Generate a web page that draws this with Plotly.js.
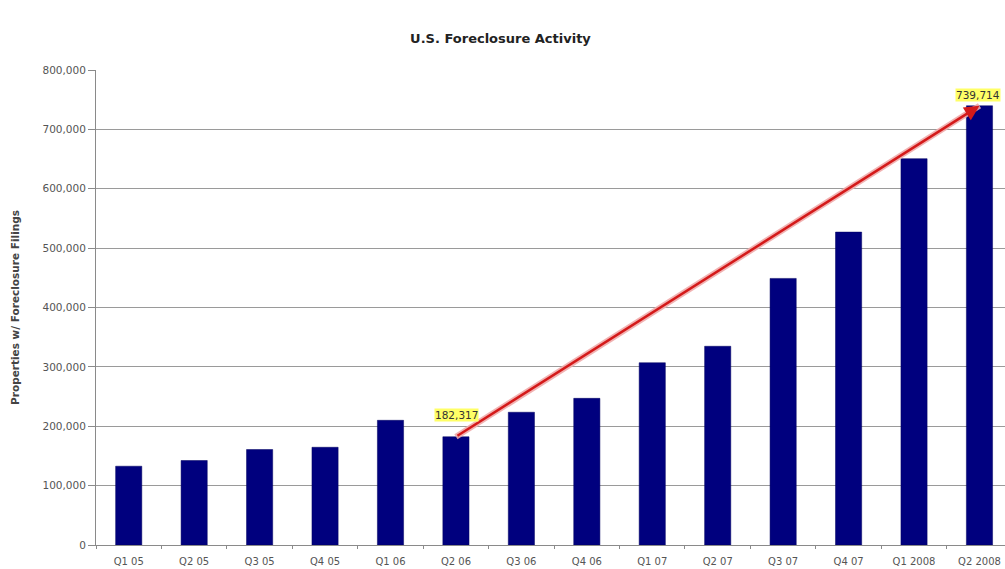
<!DOCTYPE html>
<html>
<head>
<meta charset="utf-8">
<script src="https://cdn.plot.ly/plotly-3.0.1.min.js"></script>
<style>html,body{margin:0;padding:0;background:#fff;overflow:hidden}</style>
</head>
<body>
<div id="chart" style="width:1005px;height:569px"></div>
<script>
const quarters = ["Q1 05","Q2 05","Q3 05","Q4 05","Q1 06","Q2 06","Q3 06","Q4 06","Q1 07","Q2 07","Q3 07","Q4 07","Q1 2008","Q2 2008"];
const filings = [132700,142300,160800,164600,210000,182317,223600,247000,307000,334700,449000,527000,650700,739714];
const yTicks = [0,100000,200000,300000,400000,500000,600000,700000,800000];
const yTickText = ["0","100,000","200,000","300,000","400,000","500,000","600,000","700,000","800,000"];
const labelled = [5, 13];

const fmt = v => v.toLocaleString('en-US');
const startIdx = labelled[0], endIdx = labelled[1];
const FONT = 'DejaVu Sans, Verdana, sans-serif';

const trace = {
  type: 'bar',
  x: quarters,
  y: filings,
  marker: {color: '#00007e', line: {color: '#000060', width: 0.5}},
  width: 0.4,
  hoverinfo: 'x+y'
};

const layout = {
  width: 1005, height: 569,
  margin: {l: 96, r: 0, t: 70, b: 24, autoexpand: false},
  paper_bgcolor: '#fff', plot_bgcolor: '#fff',
  showlegend: false,
  font: {family: FONT, color: '#555'},
  title: {text: '<b>U.S. Foreclosure Activity</b>', x: 0.498, xanchor: 'center', y: 0.933, yanchor: 'middle',
          font: {size: 13, color: '#222', family: FONT}},
  xaxis: {
    type: 'category', range: [-0.5, 13.39], automargin: false,
    showgrid: false, showline: true, linecolor: '#8a8a8a', linewidth: 1,
    ticks: 'outside', tickson: 'boundaries', ticklen: 3, tickcolor: '#8a8a8a',
    ticklabelstandoff: 7,
    tickfont: {size: 10, color: '#555', family: FONT}, tickangle: 0
  },
  yaxis: {
    range: [0, 800000], automargin: false,
    tickvals: yTicks, ticktext: yTickText,
    showgrid: true, gridcolor: '#9a9a9a', gridwidth: 1,
    showline: true, linecolor: '#8a8a8a', linewidth: 1,
    ticks: 'outside', ticklen: 7, tickcolor: '#8a8a8a',
    tickfont: {size: 10.5, color: '#555', family: FONT}, zeroline: false,
    title: {text: '<b>Properties w/ Foreclosure Filings</b>', standoff: 20,
            font: {size: 10.5, color: '#444', family: FONT}}
  },
  shapes: [{
    type: 'line', xref: 'x', yref: 'y',
    x0: quarters[startIdx], y0: filings[startIdx],
    x1: quarters[endIdx], y1: filings[endIdx],
    line: {color: 'rgba(240,170,170,0.9)', width: 6}, layer: 'above'
  }],
  annotations: [
    {
      xref: 'x', yref: 'y', axref: 'x', ayref: 'y',
      x: quarters[endIdx], y: filings[endIdx],
      ax: quarters[startIdx], ay: filings[startIdx],
      showarrow: true, arrowhead: 2, arrowsize: 1.2, arrowwidth: 2.5, arrowcolor: '#d41a1a',
      text: ''
    },
    {
      xref: 'x', yref: 'y', x: quarters[startIdx], y: filings[startIdx],
      text: fmt(filings[startIdx]), showarrow: false,
      xshift: 1, yshift: 22, bgcolor: '#ffff66', borderpad: 0,
      font: {size: 10.5, color: '#333', family: FONT}
    },
    {
      xref: 'x', yref: 'y', x: quarters[endIdx], y: filings[endIdx],
      text: fmt(filings[endIdx]), showarrow: false,
      xshift: -1, yshift: 11, bgcolor: '#ffff66', borderpad: 0,
      font: {size: 10.5, color: '#333', family: FONT}
    }
  ]
};

Plotly.newPlot('chart', [trace], layout, {displayModeBar: false, staticPlot: true});
</script>
</body>
</html>
